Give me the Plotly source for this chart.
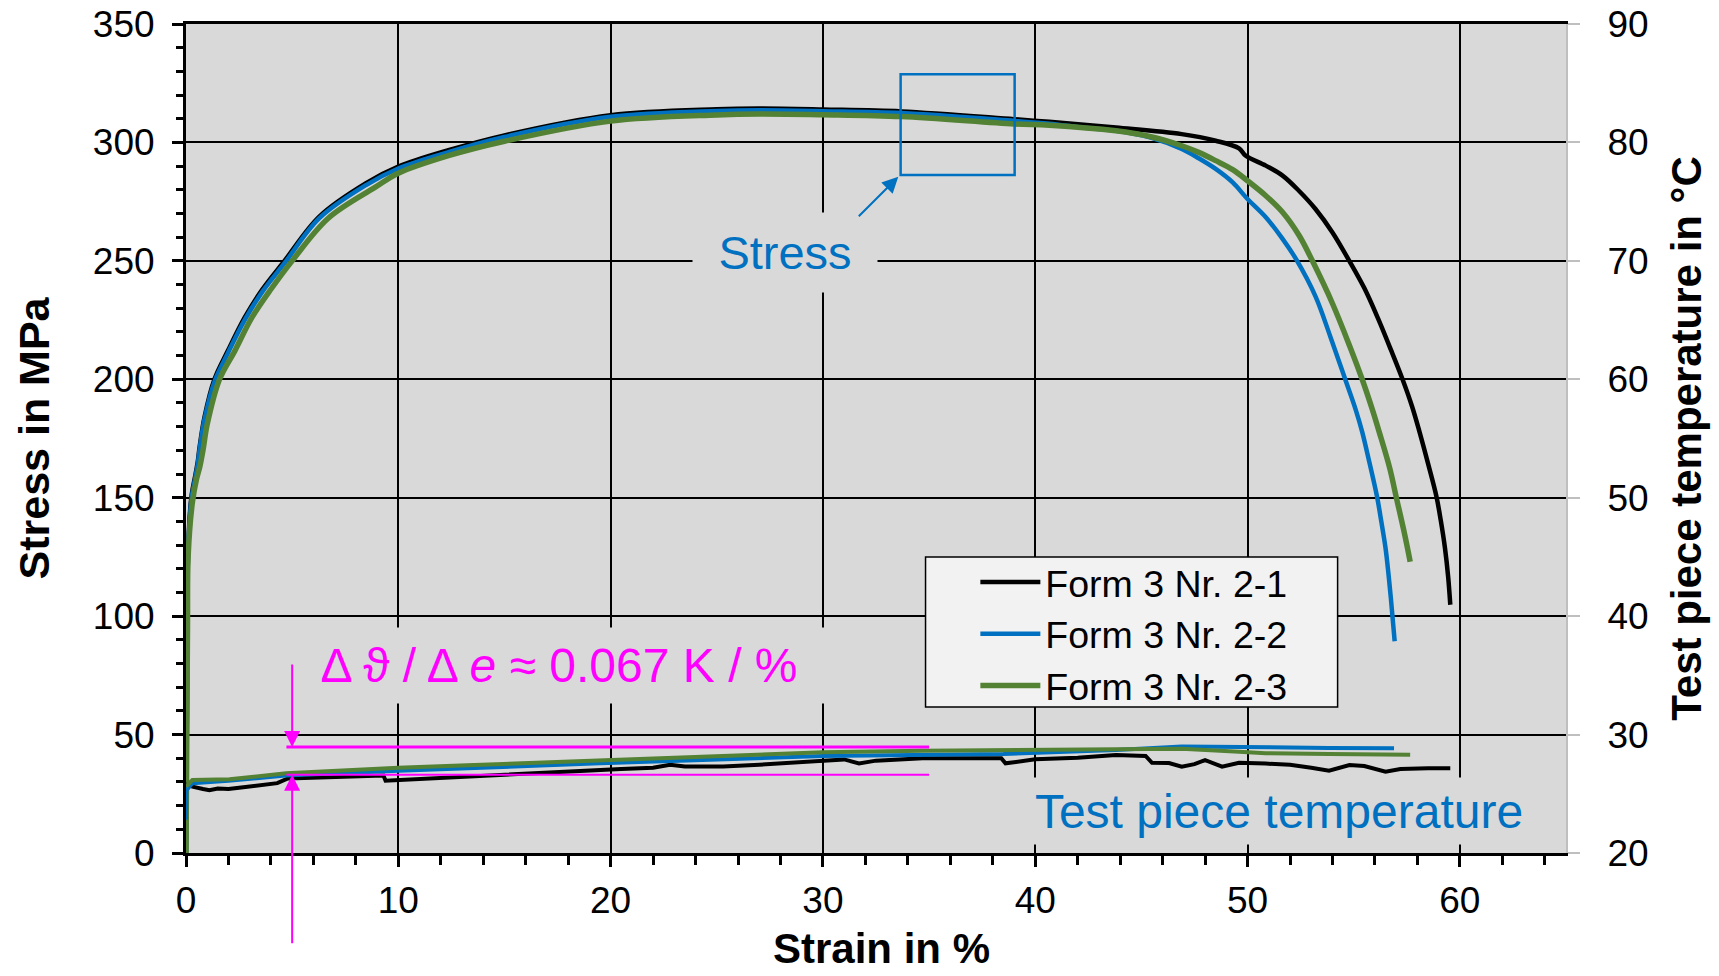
import plotly.graph_objects as go

FONT = "Arial, 'Liberation Sans', sans-serif"
BLACK = "#000000"
BLUE = "#0070c0"
GREEN = "#548235"
MAGENTA = "#ff00ff"
BG = "#d9d9d9"

series_names = ["Form 3 Nr. 2-1", "Form 3 Nr. 2-2", "Form 3 Nr. 2-3"]
series_colors = [BLACK, BLUE, GREEN]

# ---- Stress-strain curves (strain in %, stress in MPa) ----
strain_21 = [0, 0.03, 0.07, 0.1, 0.25, 0.45, 0.55, 0.65, 0.87, 1.34, 1.97, 2.76, 3.6, 4.64,
             6.28, 8.48, 10, 12.4, 15, 20, 25, 27, 30, 33.7, 39, 40.66, 43.8, 46.9, 48.5,
             49.6, 49.9, 50.86, 51.65, 52.43, 53.2, 54.0, 54.8, 55.5, 56.15, 56.75, 57.3, 57.75,
             58.1, 58.5, 58.9, 59.1, 59.3, 59.45, 59.55]
stress_21 = [0, 40, 100, 128, 150, 160, 165, 172, 184, 200, 212, 226, 238, 250,
             268.7, 282.8, 289.8, 296.8, 303, 311.5, 314, 314.3, 313.9, 313.1, 309.8, 308.7, 306.3, 303.5, 300.7,
             297.5, 294.5, 290.2, 286, 279.5, 271.9, 262, 249.9, 238.5, 225.6, 212.5, 200, 188.5,
             177.8, 164.5, 150.4, 140.5, 128.7, 116.5, 104.8]

strain_22 = [0, 0.03, 0.07, 0.1, 0.25, 0.45, 0.55, 0.65, 0.87, 1.34, 1.97, 2.76, 3.6, 4.64,
             6.28, 8.48, 10, 12.4, 15, 20, 25, 27, 30, 33.7, 39, 40.66, 42.2, 43.8, 45.4, 46.9, 47.7, 48.5,
             49.3, 50, 50.86, 51.65, 52.3, 53.2, 53.9, 54.6, 55.1, 55.4, 55.75, 56.1, 56.3, 56.5,
             56.63, 56.75, 56.93]
stress_22 = [0, 40, 100, 127, 149, 159, 164, 171, 183, 199, 211, 225, 237, 249,
             268, 282, 289, 296, 302.3, 310.8, 313.3, 313.6, 313.2, 312.4, 309.1, 307.9, 306.3, 304.9, 302.1, 297.2, 293.3, 288.8,
             283.1, 276.1, 268.4, 259.3, 250.5, 235, 218, 200, 187, 177.8, 164.5, 150.4, 140, 128.7,
             118.5, 107.6, 89.4]

strain_23 = [0, 0.03, 0.07, 0.1, 0.3, 0.5, 0.65, 0.8, 1.0, 1.58, 2.3, 3.1, 4.0, 5.0,
             6.7, 8.9, 10, 12.4, 15, 20, 25, 27, 30, 33.7, 39, 40.66, 43.8, 45.4, 46.9, 47.7, 48.5,
             49.3, 50, 50.86, 51.65, 52.43, 53.06, 54.0, 54.8, 55.4, 55.85, 56.2, 56.7, 57.0, 57.4, 57.66]
stress_23 = [0, 40, 95, 125, 148, 158, 163, 170, 181, 200, 212, 226, 238, 250,
             268, 281, 287, 294.5, 300.5, 309, 311.6, 312, 311.7, 310.9, 307.8, 307.3, 304.9, 302.5, 298.6, 295.8, 292.3,
             288.5, 283.8, 277.5, 270.5, 260.7, 249.9, 232, 214.3, 200, 188, 177.8, 162.4, 150.4, 134.5, 123]

# ---- Test piece temperature (strain in %, temperature in °C) ----
tstrain_21 = [0.0, 0.3, 0.8, 1.1, 1.5, 2.0, 2.5, 3.0, 3.6, 4.3, 4.8, 6.0, 7.5, 9.3, 9.4, 10.5,
              12.0, 13.5, 15.0, 17.0, 19.0, 20.5, 22.0, 22.8, 23.5, 25.3, 27.0, 28.5, 30.0, 31.0,
              31.7, 32.5, 34.7, 36.0, 37.5, 38.4, 38.6, 40.0, 42.0, 43.8, 45.2, 45.5, 46.3, 46.9,
              47.5, 48.0, 48.8, 49.6, 50.85, 52.0, 53.0, 53.84, 54.8, 55.5, 56.5, 57.2, 58.5, 59.55]
temp_21 = [25.8, 25.6, 25.4, 25.3, 25.45, 25.4, 25.5, 25.6, 25.75, 25.9, 26.3, 26.35, 26.45, 26.55, 26.1, 26.2,
           26.35, 26.45, 26.65, 26.8, 27.0, 27.1, 27.2, 27.45, 27.3, 27.3, 27.45, 27.65, 27.85, 27.9,
           27.57, 27.8, 28.0, 28.0, 28.05, 28.0, 27.57, 27.91, 28.05, 28.27, 28.2, 27.62, 27.6, 27.29,
           27.5, 27.85, 27.29, 27.62, 27.55, 27.45, 27.2, 26.95, 27.43, 27.35, 26.87, 27.1, 27.15, 27.15]

tstrain_22 = [0.0, 0.02, 0.3, 2.0, 4.7, 10.0, 19.5, 30.0, 38.5, 43.8, 46.9, 49.6, 53.84, 56.9]
temp_22 = [22.8, 25.3, 25.9, 26.1, 26.55, 26.95, 27.57, 28.19, 28.36, 28.7, 29.0, 28.92, 28.87, 28.84]

tstrain_23 = [0.0, 0.3, 2.05, 4.72, 10.0, 19.5, 22.8, 30.0, 34.7, 38.5, 43.8, 46.9, 49.6, 50.85, 53.84, 57.66]
temp_23 = [25.6, 26.16, 26.22, 26.73, 27.2, 27.85, 28.0, 28.5, 28.64, 28.7, 28.76, 28.8, 28.55, 28.42, 28.37, 28.3]

# ---- Axis settings ----
x_range = [0, 65]
stress_range = [0, 350]
temp_range = [20, 90]
x_title = "<b>Strain in %</b>"

# ---- Annotation helpers (positions in data units) ----
slope_text = "Δ ϑ / Δ <i>e</i> ≈ 0.067 K / %"
slope_x = [4.73, 35.0]
slope_upper_t = 28.95
slope_lower_t = 26.61
slope_arrow_x = 5.0
stress_box = dict(x0=33.66, x1=39.03, y0=286.2, y1=328.8)

fig = go.Figure()

stress_sets = [(strain_21, stress_21), (strain_22, stress_22), (strain_23, stress_23)]
temp_sets = [(tstrain_21, temp_21), (tstrain_22, temp_22), (tstrain_23, temp_23)]
stress_widths = [4.5, 4.5, 5.5]
temp_widths = [4, 4, 4]

for i, (xs, ys) in enumerate(stress_sets):
    fig.add_trace(go.Scatter(x=xs, y=ys, mode="lines", name=series_names[i],
                             legendgroup=series_names[i],
                             line=dict(color=series_colors[i], width=stress_widths[i],
                                       shape="spline", smoothing=1.0)))
for i, (xs, ys) in enumerate(temp_sets):
    fig.add_trace(go.Scatter(x=xs, y=ys, mode="lines", name=series_names[i],
                             legendgroup=series_names[i], showlegend=False, yaxis="y2",
                             line=dict(color=series_colors[i], width=temp_widths[i])))

fig.update_layout(
    width=1719, height=976,
    margin=dict(l=186, r=153, t=24, b=123, autoexpand=False),
    paper_bgcolor="white", plot_bgcolor=BG,
    font=dict(family=FONT, size=37, color="black"),
    showlegend=True,
    legend=dict(x=0.572, y=0.364, xanchor="left", yanchor="top",
                bgcolor="rgba(0,0,0,0)", borderwidth=0,
                font=dict(family=FONT, size=37.5, color="black"),
                itemwidth=60, tracegroupgap=0),
    xaxis=dict(range=x_range, dtick=10, tick0=0, showgrid=True, gridcolor="black", gridwidth=1.5,
               zeroline=False, showline=True, linecolor="black", linewidth=3, mirror=True,
               ticks="outside", ticklen=11, tickwidth=2.5, tickcolor="black",
               minor=dict(dtick=2, ticks="outside", ticklen=9, tickwidth=2.5, tickcolor="black", showgrid=False),
               ticklabelstandoff=2),
    yaxis=dict(range=stress_range, dtick=50, tick0=0, showgrid=True, gridcolor="black", gridwidth=1.5,
               zeroline=False, showline=True, linecolor="black", linewidth=3,
               ticks="outside", ticklen=11, tickwidth=2.5, tickcolor="black",
               minor=dict(dtick=10, ticks="outside", ticklen=7, tickwidth=2.5, tickcolor="black", showgrid=False),
               ticklabelstandoff=10,
               title=dict(text="<b>Stress in MPa</b>", font=dict(size=43, family=FONT), standoff=30)),
    yaxis2=dict(range=temp_range, dtick=10, tick0=20, overlaying="y", side="right", showgrid=False,
                zeroline=False, showline=True, linecolor="#bfbfbf", linewidth=2,
                ticks="outside", ticklen=12, tickwidth=2, tickcolor="#bfbfbf",
                ticklabelstandoff=20,
                title=dict(text="<b>Test piece temperature in °C</b>", font=dict(size=42, family=FONT), standoff=24)),
)

shapes = [
    # legend box
    dict(type="rect", xref="paper", yref="paper", x0=0.5359, x1=0.8345, y0=0.1761, y1=0.3571,
         fillcolor="#f2f2f2", line=dict(color="black", width=1.5), layer="above"),
    # stress marker box
    dict(type="rect", xref="x", yref="y", line=dict(color=BLUE, width=2.5), layer="above", **stress_box),
    # slope reference lines
    dict(type="line", xref="x", yref="y2", x0=slope_x[0], x1=slope_x[1], y0=slope_upper_t, y1=slope_upper_t,
         line=dict(color=MAGENTA, width=3), layer="above"),
    dict(type="line", xref="x", yref="y2", x0=slope_x[0], x1=slope_x[1], y0=slope_lower_t, y1=slope_lower_t,
         line=dict(color=MAGENTA, width=2), layer="above"),
]
fig.update_layout(shapes=shapes)

annotations = [
    dict(text=x_title, x=0.504, y=0, xref="paper", yref="paper", xanchor="center", yanchor="middle",
         yshift=-95, showarrow=False, font=dict(size=42, family=FONT, color="black")),
    dict(text="Stress", x=28.2, y=253.5, xref="x", yref="y", showarrow=False,
         font=dict(size=47, color=BLUE, family=FONT), bgcolor=BG, width=184, height=79, borderpad=0),
    dict(text="", x=33.55, y=285.5, xref="x", yref="y", showarrow=True, ax=-41, ay=41,
         arrowcolor=BLUE, arrowwidth=2, arrowhead=2, arrowsize=1.6, standoff=0),
    dict(text="Test piece temperature", x=51.5, y=17.9, xref="x", yref="y", showarrow=False,
         font=dict(size=48, color=BLUE, family=FONT), bgcolor=BG, width=530, height=66, borderpad=0),
    dict(text=slope_text, x=17.58, y=79.2, xref="x", yref="y", showarrow=False,
         font=dict(size=48, color=MAGENTA, family=FONT), bgcolor=BG, width=540, height=75, borderpad=0),
    dict(text="", x=slope_arrow_x, y=slope_upper_t, xref="x", yref="y2", showarrow=True, ax=0, ay=-84,
         arrowcolor=MAGENTA, arrowwidth=2, arrowhead=2, arrowsize=1.6, standoff=0),
    dict(text="", x=slope_arrow_x, y=slope_lower_t, xref="x", yref="y2", showarrow=True, ax=0, ay=170,
         arrowcolor=MAGENTA, arrowwidth=2, arrowhead=2, arrowsize=1.6, standoff=0),
]
fig.update_layout(annotations=annotations)

fig.write_html("out.html")
